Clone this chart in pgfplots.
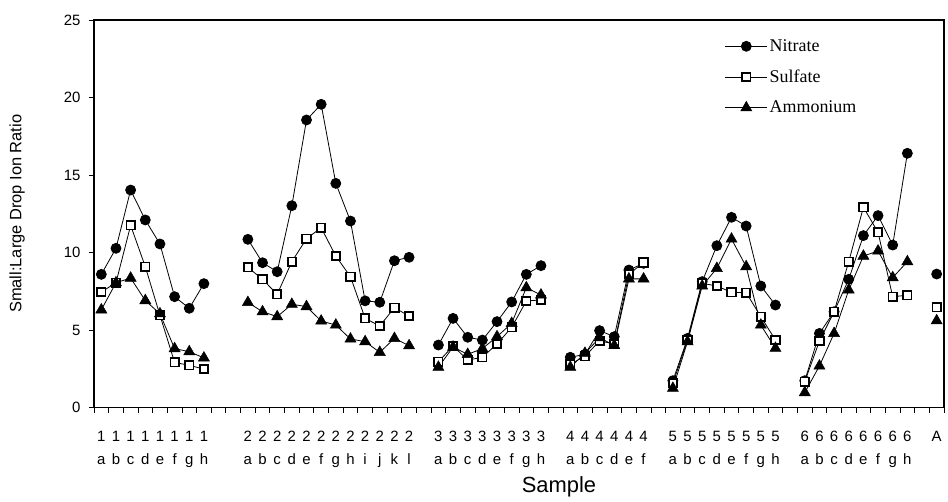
\documentclass[border=0pt]{standalone}
\usepackage{fontspec}
\setmainfont{Liberation Sans}
\newfontfamily\tnr{Liberation Serif}
\usepackage{pgfplots}
\usepackage{pgfplotstable}
\pgfplotsset{compat=1.18}

\pgfplotstableread{
x N S A
0 8.59 7.45 6.30
1 10.27 8.05 8.05
2 14.03 11.75 8.35
3 12.10 9.09 6.90
4 10.55 5.95 6.05
5 7.15 2.91 3.80
6 6.40 2.72 3.60
7 7.99 2.48 3.20
8 nan nan nan
10 10.85 9.04 6.78
11 9.34 8.27 6.18
12 8.76 7.30 5.86
13 13.02 9.41 6.66
14 18.55 10.89 6.51
15 19.56 11.60 5.58
16 14.46 9.77 5.32
17 12.03 8.44 4.42
18 6.88 5.75 4.25
19 6.79 5.26 3.56
20 9.47 6.44 4.46
21 9.69 5.90 3.99
22 nan nan nan
23 4.03 2.95 2.60
24 5.75 3.97 3.90
25 4.53 3.06 3.43
26 4.35 3.24 3.80
27 5.54 4.10 4.57
28 6.81 5.17 5.43
29 8.59 6.87 7.73
30 9.15 6.94 7.26
31 nan nan nan
32 3.24 2.80 2.60
33 3.43 3.30 3.50
34 4.96 4.30 4.50
35 4.57 4.10 4.00
36 8.87 8.60 8.30
37 9.30 9.35 8.30
38 nan nan nan
39 1.73 1.56 1.24
40 4.46 4.35 4.25
41 8.12 8.01 7.84
42 10.44 7.84 8.98
43 12.27 7.43 10.87
44 11.71 7.41 9.09
45 7.84 5.86 5.32
46 6.61 4.35 3.82
47 nan nan nan
48 1.73 1.67 0.96
49 4.78 4.29 2.68
50 6.18 6.18 4.78
51 8.27 9.41 7.58
52 11.09 12.92 9.77
53 12.38 11.30 10.10
54 10.48 7.15 8.38
55 16.40 7.24 9.41
56 nan nan nan
57 8.61 6.46 5.60
}\data

\begin{document}
\begin{tikzpicture}
\useasboundingbox (-94bp,-94.5bp) rectangle (854bp,407.5bp);
\begin{axis}[
  at={(0,0)}, anchor=south west,
  scale only axis, width=850bp, height=387.5bp,
  xmin=-0.5, xmax=57.5, ymin=0, ymax=25,
  axis line style={line width=1.2bp},
  ytick={0,5,10,15,20,25},
  xtick={0,1,2,3,4,5,6,7,10,11,12,13,14,15,16,17,18,19,20,21,23,24,25,26,27,28,29,30,32,33,34,35,36,37,39,40,41,42,43,44,45,46,48,49,50,51,52,53,54,55,57},
  xticklabels={1\\a,1\\b,1\\c,1\\d,1\\e,1\\f,1\\g,1\\h,
    2\\a,2\\b,2\\c,2\\d,2\\e,2\\f,2\\g,2\\h,2\\i,2\\j,2\\k,2\\l,
    3\\a,3\\b,3\\c,3\\d,3\\e,3\\f,3\\g,3\\h,
    4\\a,4\\b,4\\c,4\\d,4\\e,4\\f,
    5\\a,5\\b,5\\c,5\\d,5\\e,5\\f,5\\g,5\\h,
    6\\a,6\\b,6\\c,6\\d,6\\e,6\\f,6\\g,6\\h,
    A\\\strut},
  minor xtick={-0.5,0.5,...,57.5},
  major x tick style={draw=none},
  tick align=outside,
  major tick length=5bp, minor tick length=5bp,
  ytick pos=left, xtick pos=bottom,
  tick style={black, line width=0.8bp},
  x tick label style={font=\fontsize{15}{23}\selectfont, align=center, anchor=north, yshift=-15bp},
  y tick label style={font=\fontsize{15}{18}\selectfont, xshift=-5bp},
  /pgf/number format/assume math mode=true,
  xlabel={Sample},
  xlabel style={font=\fontsize{22}{26}\selectfont, at={(axis description cs:0.5,-0.205)}, anchor=center, xshift=40bp},
  ylabel={Small:Large Drop Ion Ratio},
  ylabel style={font=\fontsize{16.5}{20}\selectfont, at={(axis description cs:-0.094,0.5)}, anchor=center, rotate=0, yshift=-3bp},
  unbounded coords=jump,
  every axis plot/.append style={black, line width=0.8bp},
  legend style={draw=none, fill=none, font=\tnr\fontsize{18}{20}\selectfont,
    at={(axis description cs:0.742,0.955)}, anchor=north west,
    row sep=13bp, inner sep=0pt},
  legend cell align=left,
  legend image code/.code={\draw[mark repeat=2,mark phase=2,#1] plot coordinates {(0bp,0bp) (21bp,0bp) (42bp,0bp)};},
]
\addplot[mark=*, mark size=5bp] table[x=x,y=N] {\data};
\addlegendentry{Nitrate}
\addplot[mark=square*, mark size=4.2bp, mark options={fill=white, line width=1.8bp}] table[x=x,y=S] {\data};
\addlegendentry{Sulfate}
\addplot[mark=triangle*, mark size=6.4bp, mark options={fill=black, line width=0.5bp}] table[x=x,y=A] {\data};
\addlegendentry{Ammonium}
\end{axis}
\end{tikzpicture}
\end{document}
